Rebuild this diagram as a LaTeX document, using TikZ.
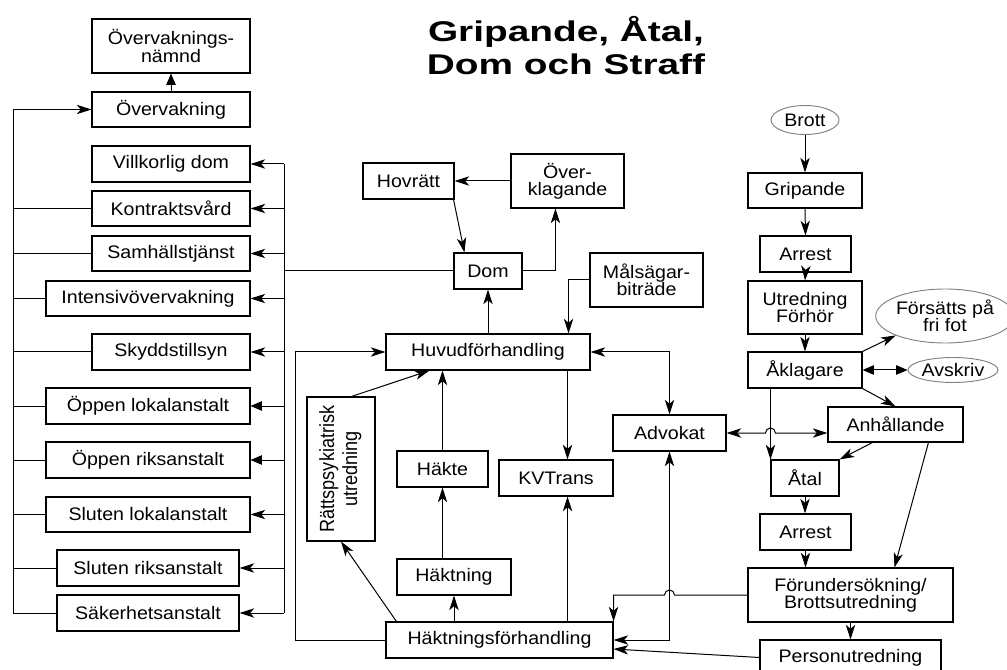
\documentclass[tikz,border=0pt]{standalone}
\usepackage{fontspec}
\setmainfont{Liberation Sans}[FakeStretch=1.08]
\newfontfamily\titlefont{Liberation Sans}[FakeStretch=1.36]
\newfontfamily\rotfont{Liberation Sans}[FakeStretch=0.88]
\usepackage{graphicx}
\usetikzlibrary{arrows.meta,calc,shapes.geometric}
\newcommand\bodyfont{\fontsize{13.6}{13}\selectfont}
\tikzset{
  box/.style={draw, line width=0.8pt, inner sep=0pt, align=center, font=\bodyfont},
  oval/.style={draw=gray, ellipse, line width=0.7pt, inner sep=0pt, align=center, font=\bodyfont},
  conn/.style={line width=0.75pt},
  >={Stealth[length=11pt,width=7pt,inset=3pt]},
  arr/.style={conn,->},
  arrb/.style={conn,<->},
  arrt/.style={conn,-{Triangle[length=8.5pt,width=7pt]}},
  arrtb/.style={conn,{Triangle[length=8.5pt,width=7pt]}-{Triangle[length=8.5pt,width=7pt]}},
}
\newcommand\bx[6]{\node[box, minimum width={(#4-#2)*0.75pt}, minimum height={(#5-#3)*0.75pt}] (#1) at ({(#2+#4)/2},{(#3+#5)/2}) {#6};}
\begin{document}
\begin{tikzpicture}[x=0.75pt,y=-0.75pt]
\useasboundingbox (0,0) rectangle (1007,670);
\clip (0,0) rectangle (1007,670);
% title
\node[font={\titlefont\bfseries\fontsize{21.4}{24}\selectfont}, anchor=base, inner sep=0pt] (t1) at (566,42) {Gripande, Åtal,};
\node[font={\titlefont\bfseries\fontsize{21.4}{24}\selectfont}, anchor=base, inner sep=0pt] (t2) at (566,75) {Dom och Straff};
% left column
\bx{nmnd}{92}{19}{250}{73}{Övervaknings-\\nämnd}
\bx{overv}{92}{92}{250}{127}{Övervakning}
\bx{villk}{92}{146}{250}{182}{Villkorlig dom}
\bx{kontr}{92}{191}{250}{226}{Kontraktsvård}
\bx{samh}{92}{236}{250}{271}{Samhällstjänst}
\bx{intens}{46}{281}{250}{316}{Intensivövervakning}
\bx{skydd}{92}{334}{250}{370}{Skyddstillsyn}
\bx{opl}{46}{388}{250}{424}{Öppen lokalanstalt}
\bx{opr}{46}{442}{250}{478}{Öppen riksanstalt}
\bx{sll}{46}{497}{250}{532}{Sluten lokalanstalt}
\bx{slr}{57}{550}{239}{586}{Sluten riksanstalt}
\bx{sak}{57}{595}{239}{631}{Säkerhetsanstalt}
% middle
\bx{hovr}{363}{163}{454}{199}{Hovrätt}
\bx{overk}{511}{154}{624}{208}{Över-\\klagande}
\bx{dom}{454}{253}{522}{289}{Dom}
\bx{mals}{590}{253}{703}{307}{Målsägar-\\biträde}
\bx{huvud}{386}{334}{590}{370}{Huvudförhandling}
\bx{ratt}{307}{397}{375}{541}{\rotatebox{90}{\rotfont\fontsize{15.4}{17.25}\selectfont\begin{tabular}{@{}c@{}}Rättspsykiatrisk\\utredning\end{tabular}}}
\bx{hakte}{397}{451}{488}{487}{Häkte}
\bx{kvt}{499}{460}{613}{496}{KVTrans}
\bx{haktn}{397}{559}{511}{595}{Häktning}
\bx{hfh}{386}{622}{613}{658}{Häktningsförhandling}
\bx{adv}{613}{415}{726}{451}{Advokat}
% right
\node[oval, minimum width={68*0.75pt}, minimum height={29*0.75pt}] (brott) at (805,120) {Brott};
\bx{grip}{748}{173}{862}{208}{Gripande}
\bx{arr1}{760}{236}{851}{272}{Arrest}
\bx{utr}{748}{281}{862}{334}{Utredning\\Förhör}
\bx{akl}{748}{352}{862}{388}{Åklagare}
\node[oval, minimum width={122*0.75pt}, minimum height={54*0.75pt}] (fri) at (945,316) {Försätts på\\fri fot};
\node[oval, minimum width={90*0.75pt}, minimum height={25*0.75pt}] (avsk) at (953,370) {Avskriv};
\bx{anh}{828}{407}{963}{442}{Anhållande}
\bx{atal}{771}{460}{839}{496}{Åtal}
\bx{arr2}{760}{514}{851}{550}{Arrest}
\bx{forund}{748}{568}{953}{622}{Förundersökning/\\Brottsutredning}
\bx{pers}{760}{640}{941}{675}{Personutredning}
% coordinates for vertical buses
\coordinate (lx) at (13,0);
\coordinate (rx) at (284,0);
\coordinate (hx) at (295,0);
% left column connectors
\draw[arrt] (overv.north) -- (nmnd.south);
\draw[arr] (sak.west) -- (sak.west -| lx) -- (overv.west -| lx) -- (overv.west);
\foreach \n in {kontr,samh,intens,skydd,opl,opr,sll,slr}
  \draw[conn] (\n.west) -- (\n.west -| lx);
\draw[conn] (villk.east -| rx) -- (sak.east -| rx);
\draw[conn] (dom.west) -- (dom.west -| rx);
\foreach \n in {villk,kontr,samh,intens,skydd,sll,slr,sak}
  \draw[arr] (\n.east -| rx) -- (\n.east);
\foreach \n in {opl,opr}
  \draw[arrt] (\n.east -| rx) -- (\n.east);
% middle connectors
\draw[arr] (overk.west) -- (hovr.east);
\draw[arr] ($(hovr.south east)+(-1,0)$) -- ($(dom.north west)+(11,0)$);
\draw[arr] (dom.east) -| ($(overk.south west)+(45,0)$);
\draw[arr] (huvud.north) -- (dom.south);
\draw[arr] (mals.west) -| ($(huvud.north east)+(-22,0)$);
\draw[arrb] (huvud.east) -| (adv.north);
\draw[arr] (hfh.west) -- (hfh.west -| hx) -- (huvud.west -| hx) -- (huvud.west);
\draw[arr] ($(ratt.north west)+(45,0)$) -- ($(huvud.south west)+(44,0)$);
\draw[arr] (hakte.north) -- (hakte.north |- huvud.south);
\coordinate (kvx) at ($(kvt.north east)+(-46,0)$);
\draw[arr] (huvud.south -| kvx) -- (kvt.north -| kvx);
\draw[arr] (hfh.north -| kvx) -- (kvt.south -| kvx);
\draw[arr] (haktn.north -| hakte.south) -- (hakte.south);
\draw[arr] (hfh.north -| haktn.south) -- (haktn.south);
\draw[arr] ($(hfh.north west)+(11,0)$) -- (ratt.south);
\draw[arr] (forund.west) -- ($(forund.west -| adv.south)+(5,0)$) arc[start angle=0,end angle=180,radius=3.75pt] -| (hfh.north east);
\draw[arrb] (hfh.east) -| (adv.south);
\draw[arr] (pers.west) -- ($(hfh.east)+(0,9)$);
% right connectors
\coordinate (av) at (atal.north west);
\draw[arrb] (adv.east) -- ($(adv.east -| av)+(-5,0)$) arc[start angle=180,end angle=0,radius=3.75pt] -- (adv.east -| anh.west);
\draw[arr] (akl.south -| av) -- (av);
\draw[arr] (brott.south) -- (grip.north);
\draw[arr] (grip.south) -- (arr1.north);
\draw[arr] (arr1.south) -- (utr.north);
\draw[arr] (utr.south) -- (akl.north);
\draw[arr] (akl.north east) -- (fri.south west);
\draw[arrtb] (akl.east) -- (avsk.west);
\draw[arr] (akl.south east) -- (anh.north);
\draw[arr] ($(anh.south west)+(45,0)$) -- (atal.north east);
\draw[arr] ($(anh.south west)+(101,0)$) -- ($(forund.north west)+(147,0)$);
\draw[arr] (atal.south) -- (atal.south |- arr2.north);
\draw[arr] (arr2.south) -- (arr2.south |- forund.north);
\draw[arr] (forund.south) -- (pers.north);
\end{tikzpicture}
\end{document}
